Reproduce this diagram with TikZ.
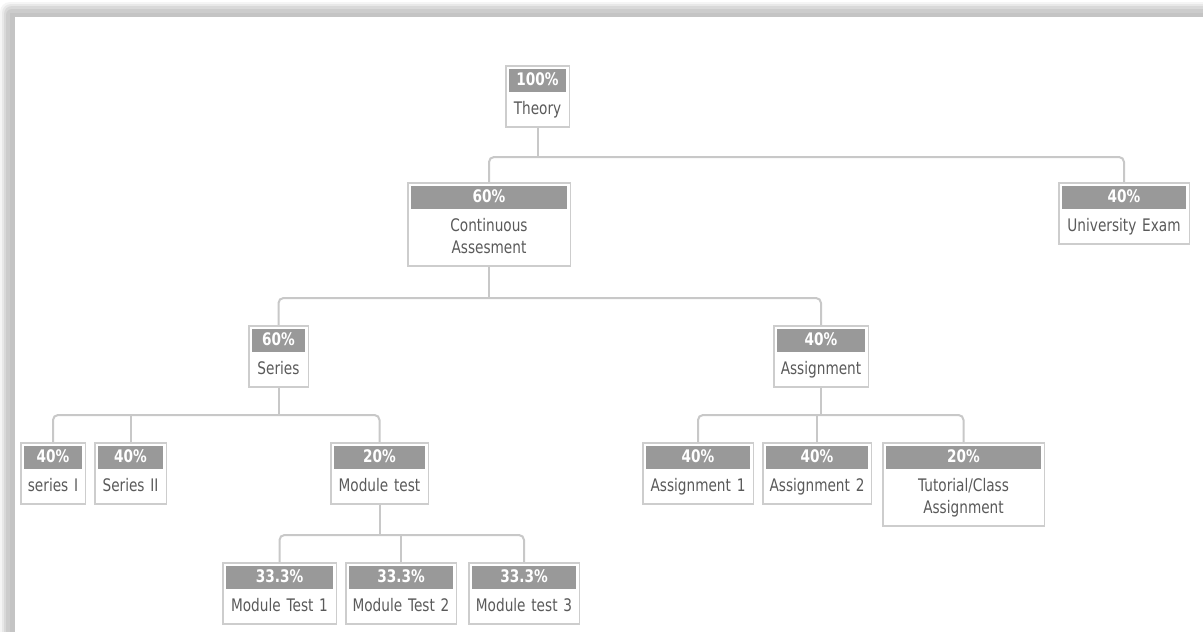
\documentclass[tikz,border=0pt]{standalone}
\usepackage{fontspec}
\setmainfont{DejaVu Sans}[FakeStretch=0.79]
\usepackage{xcolor}
\definecolor{txtgray}{HTML}{5A5A5A}
\definecolor{hdrgray}{HTML}{999999}
\definecolor{boxgray}{HTML}{CDCDCD}
\definecolor{linegray}{HTML}{C8C8C8}
\usetikzlibrary{positioning}
\setlength{\fboxsep}{2pt}
\newcommand{\pctbar}[1]{\colorbox{hdrgray}{\makebox[\dimexpr\hsize-2\fboxsep\relax]{\rule[-4pt]{0pt}{19pt}\bfseries\color{white}#1}}}

\begin{document}
\begin{tikzpicture}[x=1pt, y=-1pt]
		\tikzset{box/.style={draw=boxgray, line width=1.5pt, fill=white, text=txtgray, align=center, inner xsep=3pt, inner ysep=3pt, text width=#1, anchor=north, font=\fontsize{17.3}{22}\selectfont, execute at end node={\rule[-9pt]{0pt}{9pt}}}}
		\tikzstyle{conn}=[draw=linegray, line width=2pt, rounded corners=5pt]
		\useasboundingbox (0,0) rectangle (1203,632);
		\clip (0,0) rectangle (1203,632);

		% frame with shadow
		\fill[white] (0,0) rectangle (1203,632);
		\fill[black!4, rounded corners=10pt] (0,2) rectangle (1240,660);
		\fill[black!9, rounded corners=9pt] (2,4) rectangle (1240,660);
		\fill[black!15, rounded corners=8pt] (4,6) rectangle (1240,660);
		\fill[black!20, rounded corners=6pt] (6,9) rectangle (1240,660);
		\fill[black!23] (10,13) rectangle (1240,660);
		\fill[white] (15,17) rectangle (1240,660);

		\node[box=57.5pt] (theory) at (537.5,65) {\pctbar{100\%}\\[7pt]Theory};

		\node[box=156.5pt] (contass) at (489,182) {\pctbar{60\%}\\[7pt]Continuous\\Assesment};
		\node[box=124.5pt] (univexam) at (1124,182) {\pctbar{40\%}\\[7pt]University Exam};

		\node[box=53.5pt] (series) at (278.5,325) {\pctbar{60\%}\\[7pt]Series};
		\node[box=88.5pt] (assign) at (821,325) {\pctbar{40\%}\\[7pt]Assignment};

		\node[box=58.5pt] (seriesI) at (53,442) {\pctbar{40\%}\\[7pt]series I};
		\node[box=65.5pt] (seriesII) at (130.5,442) {\pctbar{40\%}\\[7pt]Series II};
		\node[box=91.5pt] (modtest) at (379.5,442) {\pctbar{20\%}\\[7pt]Module test};

		\node[box=104.5pt] (assign1) at (698,442) {\pctbar{40\%}\\[7pt]Assignment 1};
		\node[box=102.5pt] (assign2) at (817,442) {\pctbar{40\%}\\[7pt]Assignment 2};
		\node[box=155.5pt] (tutorial) at (963.5,442) {\pctbar{20\%}\\[7pt]Tutorial/Class\\Assignment};

		\node[box=107.5pt] (modtest1) at (279.5,562) {\pctbar{33.3\%}\\[7pt]Module Test 1};
		\node[box=104.5pt] (modtest2) at (401,562) {\pctbar{33.3\%}\\[7pt]Module Test 2};
		\node[box=104.5pt] (modtest3) at (524,562) {\pctbar{33.3\%}\\[7pt]Module test 3};

		% connectors
		\coordinate (thbus) at (537.5,157);
		\draw[conn] (theory.south) -- (thbus);
		\draw[conn] (contass.north) |- (thbus) -| (univexam.north);

		\coordinate (cabus) at (489,298);
		\draw[conn] (contass.south) -- (cabus);
		\draw[conn] (series.north) |- (cabus) -| (assign.north);

		\coordinate (sebus) at (278.5,415);
		\draw[conn] (series.south) -- (sebus);
		\draw[conn] (seriesI.north) |- (sebus) -| (modtest.north);
		\draw[conn] (seriesII.north) -- (seriesII.north |- sebus);

		\coordinate (asbus) at (821,415);
		\draw[conn] (assign.south) -- (asbus);
		\draw[conn] (assign1.north) |- (asbus) -| (tutorial.north);
		\draw[conn] (assign2.north) -- (assign2.north |- asbus);

		\coordinate (mobus) at (379.5,535);
		\draw[conn] (modtest.south) -- (mobus);
		\draw[conn] (modtest1.north) |- (mobus) -| (modtest3.north);
		\draw[conn] (modtest2.north) -- (modtest2.north |- mobus);
	\end{tikzpicture}
\end{document}
